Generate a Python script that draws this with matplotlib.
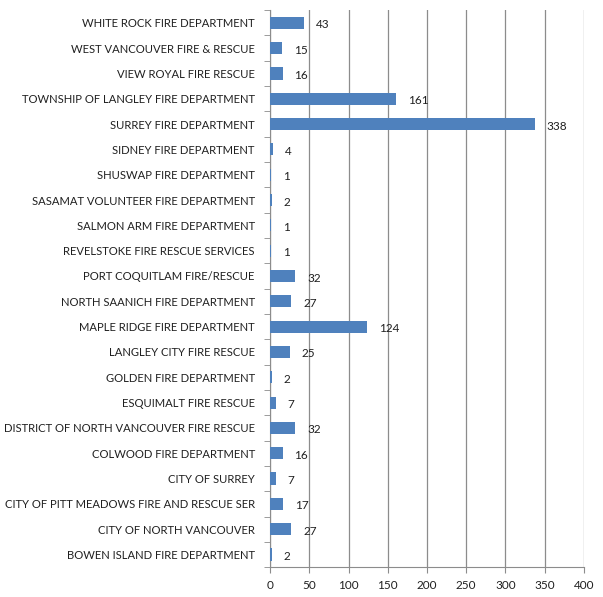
import matplotlib
matplotlib.use('Agg')
import matplotlib.pyplot as plt
import numpy as np

# departments listed bottom to top, as drawn
departments = [
    'BOWEN ISLAND FIRE DEPARTMENT',
    'CITY OF NORTH VANCOUVER',
    'CITY OF PITT MEADOWS FIRE AND RESCUE SER',
    'CITY OF SURREY',
    'COLWOOD FIRE DEPARTMENT',
    'DISTRICT OF NORTH VANCOUVER FIRE RESCUE',
    'ESQUIMALT FIRE RESCUE',
    'GOLDEN FIRE DEPARTMENT',
    'LANGLEY CITY FIRE RESCUE',
    'MAPLE RIDGE FIRE DEPARTMENT',
    'NORTH SAANICH FIRE DEPARTMENT',
    'PORT COQUITLAM FIRE/RESCUE',
    'REVELSTOKE FIRE RESCUE SERVICES',
    'SALMON ARM FIRE DEPARTMENT',
    'SASAMAT VOLUNTEER FIRE DEPARTMENT',
    'SHUSWAP FIRE DEPARTMENT',
    'SIDNEY FIRE DEPARTMENT',
    'SURREY FIRE DEPARTMENT',
    'TOWNSHIP OF LANGLEY FIRE DEPARTMENT',
    'VIEW ROYAL FIRE RESCUE',
    'WEST VANCOUVER FIRE & RESCUE',
    'WHITE ROCK FIRE DEPARTMENT',
]
counts = [2, 27, 17, 7, 16, 32, 7, 2, 25, 124, 27, 32, 1, 1, 2, 1, 4, 338, 161, 16, 15, 43]
x_ticks = [0, 50, 100, 150, 200, 250, 300, 350, 400]

plt.rcParams['font.family'] = ['Lato', 'DejaVu Sans']

fig = plt.figure(figsize=(6.03, 5.97), dpi=100)
ax = fig.add_axes([0.448, 0.050, 0.520, 0.933])

y = np.arange(len(departments))
ax.barh(y, counts, height=0.48, color='#4F81BD', zorder=3)

for yi, v in zip(y, counts):
    ax.text(v + 15, yi - 0.08, str(v), va='center', ha='left', fontsize=8.5, color='#202020')

ax.set_xlim(0, 400)
ax.set_ylim(-0.5, len(departments) - 0.5)
ax.set_xticks(x_ticks)
ax.set_xticklabels([str(t) for t in x_ticks], fontsize=8.5, color='#202020')
ax.xaxis.grid(True, color='#8C8C8C', linewidth=0.9, zorder=0)

# category labels in the middle, tick marks on the boundaries
ax.set_yticks(y)
ax.set_yticklabels(departments, fontsize=8.1, color='#202020')
ax.tick_params(axis='y', length=0, pad=11)
ax.set_yticks(np.arange(-0.5, len(departments)), minor=True)
ax.tick_params(axis='y', which='minor', length=4, color='#8C8C8C')
ax.tick_params(axis='x', length=4, color='#8C8C8C', pad=5)

for side in ['top', 'right']:
    ax.spines[side].set_visible(False)
for side in ['left', 'bottom']:
    ax.spines[side].set_color('#8C8C8C')

fig.savefig('out.png', dpi=100)
